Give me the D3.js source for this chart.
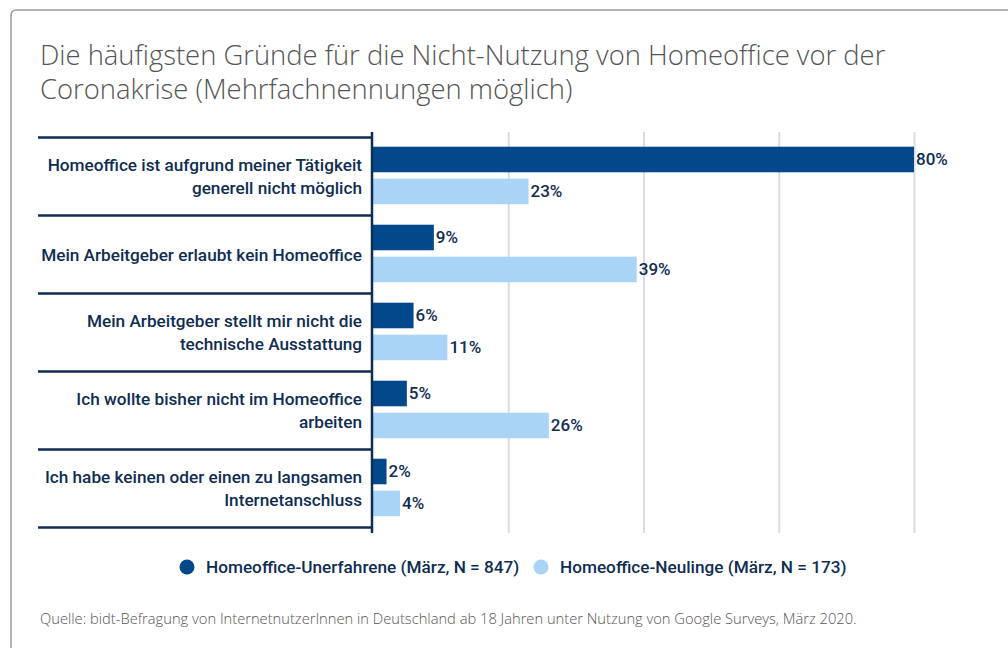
<!DOCTYPE html>
<html>
<head>
<meta charset="utf-8">
<script src="https://cdn.jsdelivr.net/npm/d3@7"></script>
<style>
  body { margin: 0; background: #fff; }
  svg { display: block; }
  .title { font-family: "Open Sans", sans-serif; font-weight: 300; font-size: 27.4px; fill: #555; }
  .cat { font-family: Roboto, sans-serif; font-weight: 500; font-size: 17.2px; fill: #0f2d52; }
  .val { font-family: Roboto, sans-serif; font-weight: 500; font-size: 17px; fill: #0f2d52; }
  .legend { font-family: Roboto, sans-serif; font-weight: 500; font-size: 17.2px; fill: #0f2d52; }
  .source { font-family: "Open Sans", sans-serif; font-weight: 300; font-size: 14.7px; fill: #555; }
</style>
</head>
<body>
<div class="container"></div>
<script>
const categories = [
    "Homeoffice ist aufgrund meiner Tätigkeit\ngenerell nicht möglich",
    "Mein Arbeitgeber erlaubt kein Homeoffice",
    "Mein Arbeitgeber stellt mir nicht die\ntechnische Ausstattung",
    "Ich wollte bisher nicht im Homeoffice\narbeiten",
    "Ich habe keinen oder einen zu langsamen\nInternetanschluss"
];
const seriesNames = [
    "Homeoffice-Unerfahrene (März, N = 847)",
    "Homeoffice-Neulinge (März, N = 173)"
];
const unerfahrene = [80, 9, 6, 5, 2];
const neulinge = [23, 39, 11, 26, 4];
const gridTicks = [20, 40, 60, 80];

const colors = ["#03488a", "#a9d4f5"];
const textColor = "#0f2d52";

const w = 1008;
const h = 648;

const svg = d3.select(".container")
    .append("svg")
    .attr("width", w)
    .attr("height", h);

/* card frame */
svg.append("rect")
   .attr("x", 11)
   .attr("y", 10)
   .attr("width", 1100)
   .attr("height", 800)
   .attr("rx", 5)
   .attr("fill", "#fff")
   .attr("stroke", "#9a9a9a")
   .attr("stroke-width", 1.5);

/* title */
const titleLines = ["Die häufigsten Gründe für die Nicht-Nutzung von Homeoffice vor der",
                    "Coronakrise (Mehrfachnennungen möglich)"];
svg.selectAll("text.title")
   .data(titleLines)
   .enter()
   .append("text")
   .attr("class", "title")
   .attr("x", 40)
   .attr("y", (d, i) => 65 + i * 34)
   .text(d => d);

/* scales */
const xScale = d3.scaleLinear()
    .domain([0, 80])
    .range([373, 914]);

const yScale = d3.scaleBand()
    .domain(d3.range(categories.length))
    .range([137.5, 527.5])
    .padding(0);

const inner = d3.scaleBand()
    .domain([0, 1])
    .range([0, yScale.bandwidth()])
    .paddingInner(0.2)
    .paddingOuter(0.32)
    .align(0.45);

/* gridlines */
const grid = svg.append("g")
    .attr("transform", "translate(0," + 533 + ")")
    .call(d3.axisBottom(xScale).tickValues(gridTicks).tickSize(-401).tickFormat(""));
grid.select(".domain").remove();
grid.selectAll(".tick line").attr("stroke", "#d9dde3").attr("stroke-width", 2);

/* category separators */
const seps = d3.range(categories.length + 1).map(i =>
    i < categories.length ? yScale(i) : yScale(categories.length - 1) + yScale.bandwidth());
svg.selectAll("line.sep")
   .data(seps)
   .enter()
   .append("line")
   .attr("class", "sep")
   .attr("x1", 38)
   .attr("x2", 372)
   .attr("y1", d => d)
   .attr("y2", d => d)
   .attr("stroke", textColor)
   .attr("stroke-width", 2.5);

/* bars */
const rows = [];
categories.forEach((c, i) => {
    rows.push({ cat: i, s: 0, v: unerfahrene[i] });
    rows.push({ cat: i, s: 1, v: neulinge[i] });
});

svg.selectAll("rect.bar")
   .data(rows)
   .enter()
   .append("rect")
   .attr("class", "bar")
   .attr("x", xScale(0))
   .attr("y", d => yScale(d.cat) + inner(d.s))
   .attr("width", d => xScale(d.v) - xScale(0))
   .attr("height", inner.bandwidth())
   .attr("fill", d => colors[d.s]);

svg.selectAll("text.val")
   .data(rows)
   .enter()
   .append("text")
   .attr("class", "val")
   .attr("x", d => xScale(d.v) + 2)
   .attr("y", d => yScale(d.cat) + inner(d.s) + inner.bandwidth() / 2)
   .attr("dy", "0.35em")
   .text(d => d.v + "%");

/* y axis line */
svg.append("line")
   .attr("x1", 372).attr("x2", 372)
   .attr("y1", 132).attr("y2", 533)
   .attr("stroke", textColor)
   .attr("stroke-width", 2.5);

/* category labels */
categories.forEach((c, i) => {
    const lines = c.split("\n");
    const mid = yScale(i) + yScale.bandwidth() / 2;
    const lh = 23;
    svg.append("text")
       .attr("class", "cat")
       .attr("text-anchor", "end")
       .selectAll("tspan")
       .data(lines)
       .enter()
       .append("tspan")
       .attr("x", 362)
       .attr("y", (d, j) => mid + (j - (lines.length - 1) / 2) * lh)
       .attr("dy", "0.36em")
       .text(d => d);
});

/* legend */
const legendX = [187, 541];
const legend = svg.selectAll("g.legend")
    .data(seriesNames)
    .enter()
    .append("g")
    .attr("transform", (d, i) => "translate(" + legendX[i] + ",567)");
legend.append("circle")
      .attr("r", 7.5)
      .attr("fill", (d, i) => colors[i]);
legend.append("text")
      .attr("class", "legend")
      .attr("x", 19)
      .attr("dy", "0.35em")
      .text(d => d);

/* source */
svg.append("text")
   .attr("class", "source")
   .attr("x", 40)
   .attr("y", 624)
   .text("Quelle: bidt-Befragung von InternetnutzerInnen in Deutschland ab 18 Jahren unter Nutzung von Google Surveys, März 2020.");
</script>
</body>
</html>
